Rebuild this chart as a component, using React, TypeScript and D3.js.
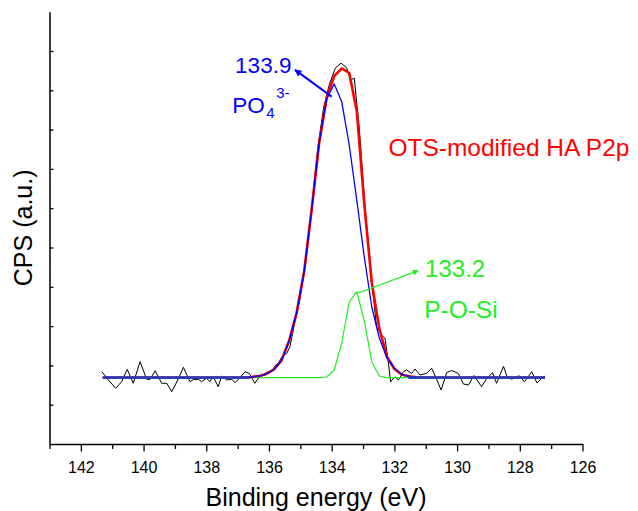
import React, { useEffect, useRef } from 'react';
import * as d3 from 'd3';

// OTS-modified HA, P2p region (a.u.)

const FONT = '"Liberation Sans", Arial, Helvetica, sans-serif';

const rawEnergy = [
  141.33, 141.12, 140.89, 140.70, 140.52, 140.33, 140.11, 139.90, 139.79, 139.63,
  139.42, 139.26, 139.10, 138.91, 138.73, 138.52, 138.41, 138.25, 138.15, 137.99,
  137.88, 137.79, 137.62, 137.51, 137.35, 137.19, 137.08, 136.92, 136.76, 136.63,
  136.45, 136.34, 136.23, 136.07, 135.91, 135.78, 135.70, 135.59, 135.43, 135.33,
  135.20, 135.02, 134.83, 134.64, 134.45, 134.26, 134.07, 133.88, 133.70, 133.52,
  133.40, 133.28, 133.12, 132.94, 132.75, 132.57, 132.41, 132.30, 132.19, 132.12,
  131.98, 131.87, 131.71, 131.61, 131.45, 131.34, 131.18, 130.97, 130.81, 130.65,
  130.51, 130.33, 130.17, 129.96, 129.80, 129.64, 129.46, 129.22, 129.05, 128.87,
  128.74, 128.52, 128.41, 128.26, 128.02, 127.85, 127.62, 127.45, 127.30, 127.19,
];
const rawCounts = [
  1.840, 1.628, 1.417, 1.585, 1.901, 1.545, 2.094, 1.646, 1.646, 1.865,
  1.545, 1.545, 1.331, 1.628, 1.952, 1.585, 1.641, 1.646, 1.585, 1.672,
  1.585, 1.730, 1.458, 1.730, 1.628, 1.646, 1.560, 1.697, 1.840, 1.799,
  1.545, 1.672, 1.738, 1.824, 1.865, 2.010, 2.053, 2.221, 2.308, 2.476,
  3.000, 3.660, 4.630, 6.000, 7.480, 8.550, 9.160, 9.570, 9.690, 9.570,
  9.260, 9.310, 8.040, 6.080, 4.380, 2.985, 2.774, 2.690, 2.053, 1.585,
  1.712, 1.628, 1.840, 1.883, 1.799, 1.908, 1.756, 1.799, 1.926, 1.641,
  1.374, 1.819, 1.870, 1.794, 1.527, 1.501, 1.743, 1.458, 1.672, 1.814,
  1.545, 1.977, 1.723, 1.646, 1.738, 1.585, 1.840, 1.552, 1.672, 1.730,
];

const fitEnergy = [
  141.30, 137.04, 136.80, 136.56, 136.32, 136.08, 135.84, 135.60, 135.36, 135.12,
  134.88, 134.64, 134.40, 134.16, 133.92, 133.68, 133.44, 133.20, 132.96, 132.72,
  132.48, 132.24, 132.00, 131.76, 131.52, 131.28, 131.04, 130.80, 130.56, 130.32,
  127.20,
];
const envelope = [
  1.690, 1.690, 1.692, 1.705, 1.730, 1.781, 1.896, 2.125, 2.621, 3.333,
  4.377, 5.954, 7.659, 8.804, 9.364, 9.555, 9.440, 8.473, 6.107, 4.097,
  2.939, 2.226, 1.908, 1.763, 1.723, 1.700, 1.692, 1.690, 1.690, 1.690,
  1.690,
];
const po4 = [
  1.690, 1.690, 1.692, 1.705, 1.730, 1.781, 1.896, 2.125, 2.621, 3.333,
  4.377, 5.954, 7.659, 8.779, 9.160, 8.710, 7.608, 6.209, 4.758, 3.486,
  2.697, 2.191, 1.934, 1.768, 1.723, 1.700, 1.692, 1.690, 1.690, 1.690,
  1.690,
];
const posi = [
  1.690, 1.690, 1.690, 1.690, 1.690, 1.690, 1.690, 1.690, 1.690, 1.690,
  1.690, 1.690, 1.690, 1.705, 1.883, 2.570, 3.613, 3.875, 3.130, 2.087,
  1.730, 1.690, 1.690, 1.690, 1.690, 1.690, 1.690, 1.690, 1.690, 1.690,
  1.690,
];
// background, shown outside the peak window (NaN = gap)
const bgEnergy = [141.3, 136.62, 134.0, 131.55, 127.2];
const background = [1.69, 1.69, NaN, 1.69, 1.69];

const majorTicks = [142, 140, 138, 136, 134, 132, 130, 128, 126];
const minorTicks = [143, 141, 139, 137, 135, 133, 131, 129, 127];
const yTicks = [1, 2, 3, 4, 5, 6, 7, 8, 9, 10];

const App = () => {
  const ref = useRef<SVGSVGElement>(null);

  useEffect(() => {
    const svg = d3.select(ref.current);
    svg.selectAll('*').remove();

    const x = d3.scaleLinear().domain([143, 126]).range([49.5, 582.5]);
    const y = d3.scaleLinear().domain([0, 11]).range([444, 11.7]);

    const defs = svg.append('defs');
    const marker = (id: string, color: string, w: number, h: number) =>
      defs.append('marker')
        .attr('id', id)
        .attr('viewBox', '0 0 10 10')
        .attr('refX', 9).attr('refY', 5)
        .attr('markerWidth', w).attr('markerHeight', h)
        .attr('markerUnits', 'userSpaceOnUse')
        .attr('orient', 'auto')
        .append('path').attr('d', 'M0,0L10,5L0,10z').attr('fill', color);
    marker('arrBlue', '#0000ff', 9, 7);
    marker('arrGreen', '#22ee22', 8, 6);

    // axes
    const gx = svg.append('g').attr('transform', `translate(0,${y(0)})`)
      .call(d3.axisBottom(x).tickValues(majorTicks).tickSize(7.5).tickSizeOuter(0)
        .tickPadding(10.5).tickFormat(d3.format('d')))
      .attr('font-size', 16).attr('font-family', FONT);
    gx.select('.domain').attr('stroke-width', 1.5);
    gx.selectAll('.tick line').attr('stroke-width', 1.3);

    const gxm = svg.append('g').attr('transform', `translate(0,${y(0)})`)
      .call(d3.axisBottom(x).tickValues(minorTicks).tickSize(5).tickFormat(() => ''));
    gxm.select('.domain').remove();
    gxm.selectAll('.tick line').attr('stroke-width', 1.3);

    const gy = svg.append('g').attr('transform', `translate(${x(143)},0)`)
      .call(d3.axisLeft(y).tickValues(yTicks).tickSize(-4).tickSizeOuter(0).tickFormat(() => ''));
    gy.select('.domain').attr('stroke-width', 1.5);
    gy.selectAll('.tick line').attr('stroke-width', 1.3);

    const line = d3.line<[number, number]>()
      .defined(d => !isNaN(d[1]))
      .x(d => x(d[0])).y(d => y(d[1]));
    const pairs = (xs: number[], ys: number[]) => xs.map((v, i) => [v, ys[i]] as [number, number]);

    const plot = (data: [number, number][], color: string, width: number) =>
      svg.append('path').datum(data).attr('d', line).attr('fill', 'none')
        .attr('stroke', color).attr('stroke-width', width).attr('stroke-linejoin', 'round');

    plot(pairs(rawEnergy, rawCounts), '#000', 1);
    plot(pairs(fitEnergy, posi), '#22ee22', 1.2);
    plot(pairs(fitEnergy, envelope), '#ff0000', 2.6);
    plot(pairs(fitEnergy, po4), '#0000ff', 1.3);
    plot(pairs(bgEnergy, background), '#2a3cc0', 2.6);

    // annotations
    svg.append('line')
      .attr('x1', x(134.0)).attr('y1', y(8.84))
      .attr('x2', x(135.17)).attr('y2', y(9.52))
      .attr('stroke', '#0000ff').attr('stroke-width', 2)
      .attr('marker-end', 'url(#arrBlue)');
    svg.append('line')
      .attr('x1', x(133.2)).attr('y1', y(3.83))
      .attr('x2', x(131.24)).attr('y2', y(4.41))
      .attr('stroke', '#22ee22').attr('stroke-width', 1.2)
      .attr('marker-end', 'url(#arrGreen)');

    const label = (e: number, v: number, txt: string, color: string, size: number) =>
      svg.append('text').attr('x', x(e)).attr('y', y(v)).attr('fill', color)
        .attr('font-size', size).attr('font-family', FONT).text(txt);

    label(137.08, 9.45, '133.9', '#0000ff', 22.5);
    const po = svg.append('text').attr('x', x(137.17)).attr('y', y(8.41))
      .attr('fill', '#0000ff').attr('font-family', FONT).attr('font-size', 22.5);
    po.append('tspan').text('PO');
    po.append('tspan').attr('font-size', 15).attr('dx', 1.5).attr('dy', 5).text('4');
    po.append('tspan').attr('font-size', 15).attr('dx', 1.5).attr('dy', -20).text('3-');

    label(132.19, 7.33, 'OTS-modified HA P2p', '#ff0000', 24.5);
    label(131.02, 4.26, '133.2', '#22ee22', 24);
    label(131.05, 3.2, 'P-O-Si', '#22ee22', 24.5);

    // axis titles
    svg.append('text')
      .attr('x', (x.range()[0] + x.range()[1]) / 2).attr('y', 506)
      .attr('text-anchor', 'middle').attr('font-size', 25).attr('font-family', FONT)
      .text('Binding energy (eV)');
    svg.append('text')
      .attr('transform', `translate(31.5,${(y.range()[0] + y.range()[1]) / 2}) rotate(-90)`)
      .attr('text-anchor', 'middle').attr('font-size', 25).attr('font-family', FONT)
      .text('CPS (a.u.)');
  }, []);

  return (
    <svg
      ref={ref}
      width={638}
      height={511}
      viewBox="0 0 638 511"
      style={{ position: 'absolute', left: 0, top: 0, background: '#fff' }}
    />
  );
};

export default App;
